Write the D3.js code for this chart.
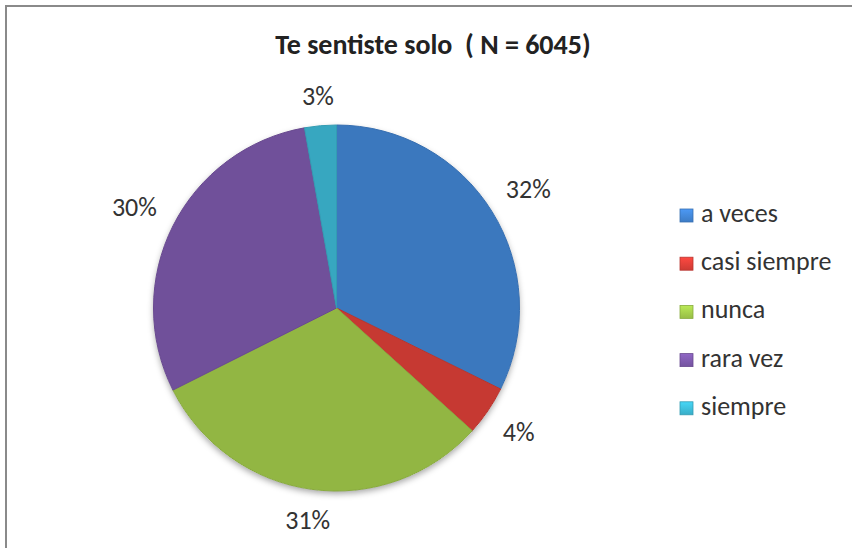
<!DOCTYPE html>
<html>
<head>
<meta charset="utf-8">
<script src="https://cdn.jsdelivr.net/npm/d3@7"></script>
<style>
  body { margin: 0; background: #fff; }
  svg text { font-family: Calibri, Carlito, Lato, sans-serif; fill: #222; }
</style>
</head>
<body>
<div id="chart"></div>
<script>
// datos
const title = "Te sentiste solo  ( N = 6045)";
const categories = ["a veces", "casi siempre", "nunca", "rara vez", "siempre"];
const values = [32.3, 4.4, 30.9, 29.6, 2.8];

// colores estilo Excel 2007
const baseColors = ["#4285d4", "#dc3f38", "#a2cb4b", "#7d59ab", "#3dbad6"];

const width = 852, height = 548;
const cx = 336.5, cy = 308, R = 183;

const svg = d3.select("#chart").append("svg")
    .attr("width", width)
    .attr("height", height);

const defs = svg.append("defs");

// sombra
const shadow = defs.append("filter").attr("id", "sombra")
    .attr("x", "-20%").attr("y", "-20%").attr("width", "140%").attr("height", "140%");
shadow.append("feDropShadow")
    .attr("dx", 0).attr("dy", 3).attr("stdDeviation", 3)
    .attr("flood-color", "#000").attr("flood-opacity", 0.35);

baseColors.forEach((c, i) => {
    let g = defs.append("radialGradient").attr("id", "grad" + i)
        .attr("gradientUnits", "userSpaceOnUse")
        .attr("cx", cx).attr("cy", cy).attr("r", R);
    g.append("stop").attr("offset", "0%").attr("stop-color", d3.color(c).brighter(0.1));
    g.append("stop").attr("offset", "93%").attr("stop-color", c);
    g.append("stop").attr("offset", "100%").attr("stop-color", d3.color(c).darker(0.3));

    let lg = defs.append("linearGradient").attr("id", "lgrad" + i)
        .attr("x1", 0).attr("y1", 0).attr("x2", 0).attr("y2", 1);
    lg.append("stop").attr("offset", "0%").attr("stop-color", d3.color(c).brighter(0.4));
    lg.append("stop").attr("offset", "100%").attr("stop-color", d3.color(c).darker(0.2));
});

// marco
svg.append("rect")
    .attr("x", 6).attr("y", 6)
    .attr("width", 900).attr("height", 600)
    .attr("fill", "#fff")
    .attr("stroke", "#8a8a8a")
    .attr("stroke-width", 2);

svg.append("text")
    .attr("x", 433).attr("y", 54)
    .attr("text-anchor", "middle")
    .style("white-space", "pre")
    .attr("font-size", 28)
    .attr("font-weight", "bold")
    .text(title);

const total = d3.sum(values);
const pie = d3.pie().sort(null).value(d => d)(values);
const arc = d3.arc().innerRadius(0).outerRadius(R);

const g = svg.append("g").attr("transform", `translate(${cx},${cy})`);

g.append("circle").attr("r", R).attr("fill", "#fff").attr("filter", "url(#sombra)");

g.selectAll(".slice")
    .data(pie).enter()
    .append("path")
    .attr("class", "slice")
    .attr("d", arc)
    .attr("fill", (d, i) => "url(#grad" + i + ")")
    .attr("stroke", (d, i) => d3.color(baseColors[i]).darker(0.5))
    .attr("stroke-width", 1)
    .attr("stroke-linejoin", "round");

// etiquetas fuera del pastel
const etiquetas = g.selectAll(".lbl")
    .data(pie).enter()
    .append("text")
    .attr("class", "lbl")
    .attr("font-size", 26)
    .attr("text-anchor", "middle")
    .attr("dominant-baseline", "central")
    .style("fill", "#333")
    .text(d => Math.round(d.value / total * 100) + "%");

etiquetas.each(function(d) {
    let bb = this.getBBox();
    let a = (d.startAngle + d.endAngle) / 2;
    let s = Math.sin(a), c = Math.cos(a);
    let r = R + 19 + Math.abs(s) * bb.width / 2 + Math.abs(c) * 9;
    d3.select(this).attr("x", s * r).attr("y", -c * r);
});

// leyenda
const legend = svg.append("g").attr("transform", "translate(680,213)");
const item = legend.selectAll(".item")
    .data(categories).enter()
    .append("g")
    .attr("class", "item")
    .attr("transform", (d, i) => `translate(0,${i * 48.2})`);

item.append("rect")
    .attr("x", 0).attr("y", -4)
    .attr("width", 13).attr("height", 13)
    .attr("fill", (d, i) => "url(#lgrad" + i + ")")
    .attr("stroke", (d, i) => d3.color(baseColors[i]).darker(0.5))
    .attr("stroke-width", 0.8);

item.append("text")
    .attr("x", 21).attr("y", 0)
    .attr("dominant-baseline", "central")
    .attr("font-size", 26)
    .style("fill", "#333")
    .text(d => d);
</script>
</body>
</html>
